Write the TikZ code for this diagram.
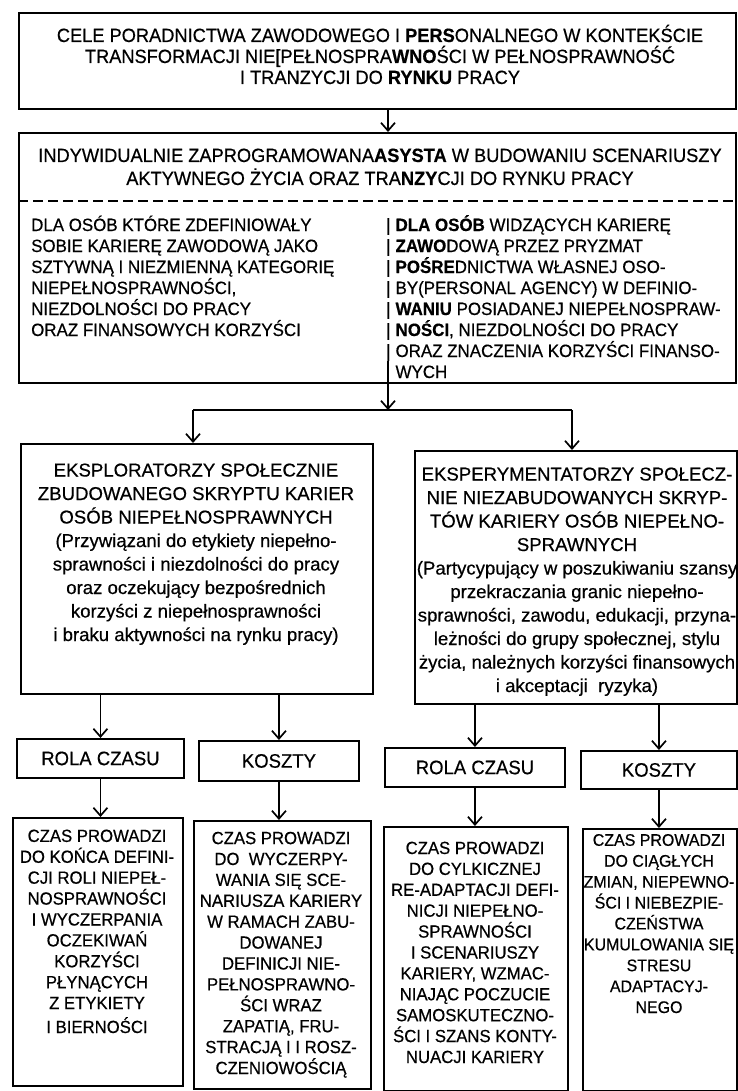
\documentclass[tikz,border=0pt]{standalone}
\usepackage{fontspec}
\setmainfont[FakeBold=0.5]{Liberation Sans}
\newfontfamily\condfont[FakeStretch=0.95,FakeBold=0.5]{Liberation Sans}
\usetikzlibrary{arrows.meta}
\newcommand\fTop{\condfont\fontsize{19.2}{21}\selectfont}
\newcommand\fTitle{\condfont\fontsize{19.2}{23}\selectfont}
\newcommand\fCol{\condfont\fontsize{17.8}{21}\selectfont}
\newcommand\fBig{\fontsize{18.6}{23.5}\selectfont}
\newcommand\fLab{\condfont\fontsize{19.5}{22}\selectfont}
\newcommand\fBot{\condfont\fontsize{17.6}{20.9}\selectfont}
\newcommand\fBotS{\condfont\fontsize{16.8}{20.9}\selectfont}
\begin{document}
\begin{tikzpicture}[x=1pt,y={(0pt,-1pt)},
  box/.style={draw,line width=1.9pt,inner sep=0pt,anchor=north west},
  txt/.style={inner sep=0pt,align=center,anchor=base},
  ltxt/.style={inner sep=0pt,align=left,anchor=base west},
  arr/.style={line width=1.7pt,-{Straight Barb[length=8pt,width=14pt]}},
  ln/.style={line width=1.7pt}]
\fill[white] (0,0) rectangle (738,1091);
\useasboundingbox (0,0) rectangle (738,1091);

% top box
\node[box,minimum width=717pt,minimum height=96pt] (top) at (18,12) {};
\node[txt,font=\fTop] (toptxt) at (380,84) {CELE PORADNICTWA ZAWODOWEGO I \textbf{PERS}ONALNEGO W KONTEKŚCIE\\
TRANSFORMACJI NIE[PEŁNOSPRA\textbf{WNO}ŚCI W PEŁNOSPRAWNOŚĆ\\
I TRANZYCJI DO \textbf{RYNKU} PRACY};

% second box
\node[box,minimum width=717pt,minimum height=250pt] (mid) at (18,132) {};
\node[txt,font=\fTitle] (midtitle) at (380,185) {INDYWIDUALNIE ZAPROGRAMOWANA\textbf{ASYSTA} W BUDOWANIU SCENARIUSZY\\
AKTYWNEGO ŻYCIA ORAZ TRA\textbf{NZY}CJI DO RYNKU PRACY};
\draw[line width=1.6pt,dash pattern=on 10pt off 5pt] (mid.west |- 0,201) -- (mid.east |- 0,201);
\node[ltxt,font=\fCol] (midleft) at (31,336) {DLA OSÓB KTÓRE ZDEFINIOWAŁY\\
SOBIE KARIERĘ ZAWODOWĄ JAKO\\
SZTYWNĄ I NIEZMIENNĄ KATEGORIĘ\\
NIEPEŁNOSPRAWNOŚCI,\\
NIEZDOLNOŚCI DO PRACY\\
ORAZ FINANSOWYCH KORZYŚCI};
\node[ltxt,font=\fCol] (midright) at (386,378) {|\hspace{5pt}\textbf{DLA OSÓB} WIDZĄCYCH KARIERĘ\\
|\hspace{5pt}\textbf{ZAWO}DOWĄ PRZEZ PRYZMAT\\
|\hspace{5pt}\textbf{POŚRE}DNICTWA WŁASNEJ OSO-\\
|\hspace{5pt}BY(PERSONAL AGENCY) W DEFINIO-\\
|\hspace{5pt}\textbf{WANIU} POSIADANEJ NIEPEŁNOSPRAW-\\
|\hspace{5pt}\textbf{NOŚCI}, NIEZDOLNOŚCI DO PRACY\\
|\hspace{5pt}ORAZ ZNACZENIA KORZYŚCI FINANSO-\\
\phantom{|}\hspace{5pt}WYCH};

\draw[arr] (top.south -| 388,0) -- (mid.north -| 388,0);

% split
\coordinate (barstart) at (388,361);
\coordinate (sm) at (388,410);
\coordinate (sl) at (193,410);
\coordinate (sr) at (572,410);
\draw[arr] (barstart) -- (sm);
\draw[ln] (sl) -- (sr);

% big boxes
\node[box,minimum width=352pt,minimum height=250pt] (lbox) at (20,443) {};
\node[txt,font=\fBig] (ltxt) at (196,641) {EKSPLORATORZY SPOŁECZNIE\\
ZBUDOWANEGO SKRYPTU KARIER\\
OSÓB NIEPEŁNOSPRAWNYCH\\
(Przywiązani do etykiety niepełno-\\
sprawności i niezdolności do pracy\\
oraz oczekujący bezpośrednich\\
korzyści z niepełnosprawności\\
i braku aktywności na rynku pracy)};
\node[box,minimum width=322pt,minimum height=253pt] (rbox) at (414,450) {};
\node[txt,font=\fBig] (rtxt) at (577,692) {EKSPERYMENTATORZY SPOŁECZ-\\
NIE NIEZABUDOWANYCH SKRYP-\\
TÓW KARIERY OSÓB NIEPEŁNO-\\
SPRAWNYCH\\
(Partycypujący w poszukiwaniu szansy\\
przekraczania granic niepełno-\\
sprawności, zawodu, edukacji, przyna-\\
leżności do grupy społecznej, stylu\\
życia, należnych korzyści finansowych\\
i akceptacji\ \ ryzyka)};
\draw[arr] (sl) -- (sl |- lbox.north);
\draw[arr] (sr) -- (sr |- rbox.north);

% small boxes
\node[box,minimum width=167pt,minimum height=39pt,font=\fLab] (r1) at (16,738) {ROLA CZASU};
\node[box,minimum width=160pt,minimum height=40pt,font=\fLab] (k1) at (198,740) {KOSZTY};
\node[box,minimum width=180pt,minimum height=39pt,font=\fLab] (r2) at (384,747) {ROLA CZASU};
\node[box,minimum width=156pt,minimum height=38pt,font=\fLab] (k2) at (580,750) {KOSZTY};
\draw[arr] (r1.north |- lbox.south) -- (r1.north);
\draw[arr] (k1.north |- lbox.south) -- (k1.north);
\draw[arr] (r2.north |- rbox.south) -- (r2.north);
\draw[arr] (k2.north |- rbox.south) -- (k2.north);

% bottom boxes
\node[box,minimum width=170pt,minimum height=268pt] (b1) at (12,817) {};
\node[box,minimum width=177pt,minimum height=268pt] (b2) at (193,820) {};
\node[box,minimum width=184pt,minimum height=264pt] (b3) at (383,826) {};
\node[box,minimum width=154pt,minimum height=262pt] (b4) at (582,828) {};
\draw[arr] (r1.south) -- (r1.south |- b1.north);
\draw[arr] (k1.south) -- (k1.south |- b2.north);
\draw[arr] (r2.south) -- (r2.south |- b3.north);
\draw[arr] (k2.south) -- (k2.south |- b4.north);

\node[txt,font=\fBot] (b1t) at (97,1033) {CZAS PROWADZI\\DO KOŃCA DEFINI-\\CJI ROLI NIEPEŁ-\\NOSPRAWNOŚCI\\I WYCZERPANIA\\OCZEKIWAŃ\\KORZYŚCI\\PŁYNĄCYCH\\Z ETYKIETY\\[3pt]I BIERNOŚCI};
\node[txt,font=\fBot] (b2t) at (281,1074) {CZAS PROWADZI\\DO\ \ WYCZERPY-\\WANIA SIĘ SCE-\\NARIUSZA KARIERY\\W RAMACH ZABU-\\DOWANEJ\\DEFINICJI NIE-\\PEŁNOSPRAWNO-\\ŚCI WRAZ\\ZAPATIĄ, FRU-\\STRACJĄ I I ROSZ-\\CZENIOWOŚCIĄ};
\node[txt,font=\fBot] (b3t) at (475,1063) {CZAS PROWADZI\\DO CYLKICZNEJ\\RE-ADAPTACJI DEFI-\\NICJI NIEPEŁNO-\\SPRAWNOŚCI\\I SCENARIUSZY\\KARIERY, WZMAC-\\NIAJĄC POCZUCIE\\SAMOSKUTECZNO-\\ŚCI I SZANS KONTY-\\NUACJI KARIERY};
\node[txt,font=\fBotS] (b4t) at (659,1013) {CZAS PROWADZI\\DO CIĄGŁYCH\\ZMIAN, NIEPEWNO-\\ŚCI I NIEBEZPIE-\\CZEŃSTWA\\KUMULOWANIA SIĘ\\STRESU\\ADAPTACYJ-\\NEGO};
\end{tikzpicture}
\end{document}
